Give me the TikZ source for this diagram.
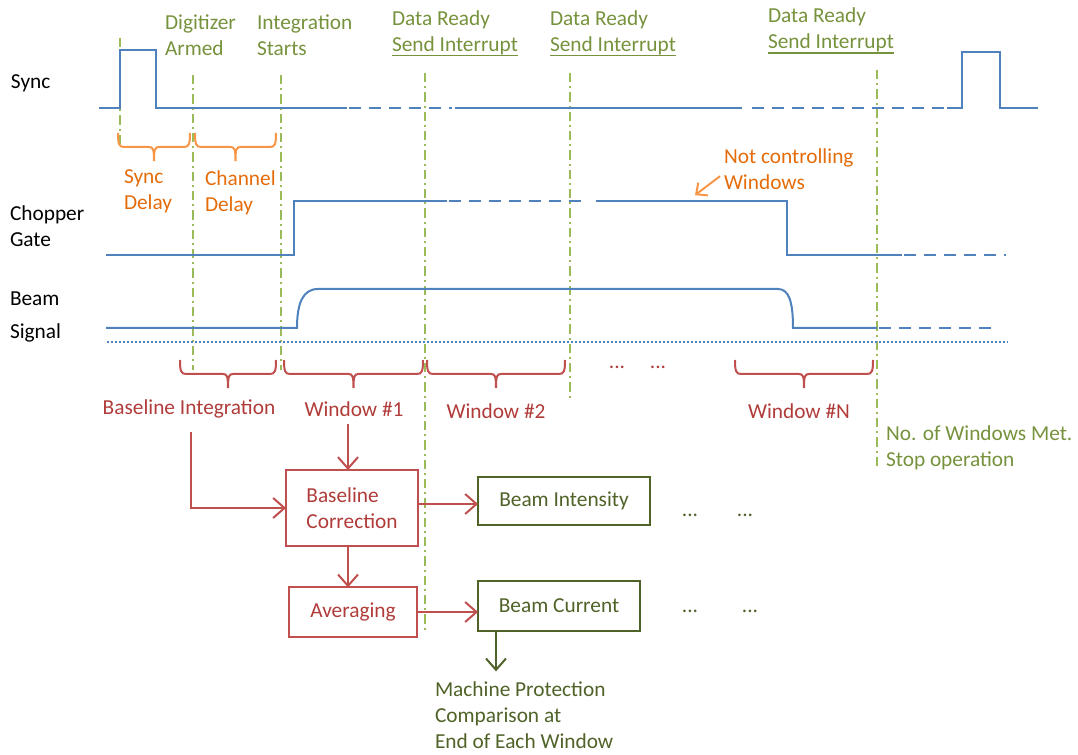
\documentclass[tikz,border=0pt]{standalone}
\usepackage{fontspec}
\setmainfont{Carlito}
\usetikzlibrary{arrows.meta}
\definecolor{wave}{HTML}{4F81BD}
\definecolor{marker}{HTML}{9BBB59}
\definecolor{evtext}{HTML}{76923C}
\definecolor{orng}{HTML}{F79646}
\definecolor{orngtext}{HTML}{E46C0A}
\definecolor{redl}{HTML}{C0504D}
\definecolor{redtext}{HTML}{B03C3A}
\definecolor{dkgreen}{HTML}{4F6228}
\newcommand\myul[1]{\leavevmode\setbox0\hbox{#1}\rlap{\rule[-3.8pt]{\wd0}{1.4pt}}\box0}
% brace: style, x1, x2, y (pixel units, y downward)
\newcommand\mybrace[4]{%
  \pgfmathsetmacro\bxm{(#2+#3)/2}%
  \draw[#1] (#2,#4) .. controls (#2,#4+11) and (#2+1,#4+14) .. (#2+6,#4+14)
    -- (\bxm-5,#4+14) .. controls (\bxm-1,#4+14) and (\bxm,#4+16) .. (\bxm,#4+28)
    .. controls (\bxm,#4+16) and (\bxm+1,#4+14) .. (\bxm+5,#4+14)
    -- (#3-6,#4+14) .. controls (#3-1,#4+14) and (#3,#4+11) .. (#3,#4);}
\begin{document}
\begin{tikzpicture}[x=0.75pt,y=-0.75pt,
  font=\fontsize{16}{19.5}\selectfont,
  every node/.style={inner sep=0pt,outer sep=0pt},
  lbl/.style={anchor=west,align=left,text=black},
  evt/.style={anchor=west,align=left,text=evtext},
  ortxt/.style={anchor=west,align=left,text=orngtext},
  redlbl/.style={text=redtext},
  wv/.style={wave,line width=1.5pt},
  wvd/.style={wave,line width=1.5pt,dash pattern=on 9pt off 6pt},
  mk/.style={marker,line width=1.5pt,dash pattern=on 7pt off 3pt on 1.5pt off 3pt},
  orbrace/.style={orng,line width=1.5pt},
  rdbrace/.style={redl,line width=1.5pt},
  redbox/.style={draw=redl,line width=1.5pt,text=redtext,align=left},
  grbox/.style={draw=dkgreen,line width=1.5pt,text=dkgreen},
  redarr/.style={redl,line width=1.5pt,-{Straight Barb[length=8.5pt,width=15pt,line width=1.5pt]}},
  grarr/.style={dkgreen,line width=1.5pt,-{Straight Barb[length=8.5pt,width=15pt,line width=1.5pt]}},
  orarr/.style={orng,line width=1.5pt,-{Straight Barb[length=6.5pt,width=12pt,line width=1.5pt]}},
]
\useasboundingbox (0,0) rectangle (1078,755);

% ---- signal labels
\node[lbl] (sync) at (11,83) {Sync};
\node[lbl] (chop) at (10,226.5) {Chopper\\Gate};
\node[lbl] (beam) at (10,317) {Beam\\[5pt]Signal};

% ---- event labels
\node[evt] (dig) at (165,35) {Digitizer\\Armed};
\node[evt] (ints) at (257,35) {Integration\\Starts};
\node[evt] (dr1) at (392,33.5) {Data Ready\\\myul{Send Interrupt}};
\node[evt] (dr2) at (550,33.5) {Data Ready\\\myul{Send Interrupt}};
\node[evt] (dr3) at (768,31) {Data Ready\\\myul{Send Interrupt}};
\node[evt] (stop) at (886,448) {No. of Windows Met.\\Stop operation};

% ---- marker lines
\draw[mk] (120,38) -- (120,148);
\draw[mk] (193,75) -- (193,370);
\draw[mk] (281,75) -- (281,370);
\draw[mk] (425,73) -- (425,632);
\draw[mk] (570,73) -- (570,398);
\draw[mk] (877,70) -- (877,466);

% ---- sync waveform
\draw[wv] (99,108) -- (120,108) -- (120,50) -- (156,50) -- (156,108) -- (347,108);
\draw[wvd] (349,108) -- (452,108);
\draw[wv] (455,108) -- (742,108);
\draw[wvd] (752,108) -- (947,108);
\draw[wv] (947,108) -- (962,108) -- (962,52) -- (1000,52) -- (1000,108) -- (1038,108);

% ---- chopper gate
\draw[wv] (106,255) -- (294,255) -- (294,201) -- (447,201);
\draw[wvd] (449,201) -- (584,201);
\draw[wv] (596,201) -- (787,201) -- (787,255) -- (902,255);
\draw[wvd] (904,255) -- (1006,255);

% ---- beam signal
\draw[wv] (106,328) -- (297,328) .. controls (297,303) and (303,289) .. (318,289)
  -- (778,289) .. controls (789,289) and (793,302) .. (793,328) -- (877,328);
\draw[wvd] (879,328) -- (992,328);
\draw[wave,line width=1.3pt,dash pattern=on 1.3pt off 1.7pt] (107,342) -- (1008,342);

% ---- orange braces and labels
\mybrace{orbrace}{118}{190}{133}
\mybrace{orbrace}{195}{276}{133}
\node[ortxt] (sd) at (124,191) {Sync\\Delay};
\node[ortxt] (cd) at (205,193) {Channel\\Delay};
\node[ortxt] (nc) at (724,169.5) {Not controlling\\Windows};
\draw[orarr] ([xshift=-3pt,yshift=-5pt]nc.west) -- ++(-25,19) coordinate (ncend);

% ---- red braces and labels
\mybrace{rdbrace}{180}{276}{360}
\mybrace{rdbrace}{284}{423}{360}
\mybrace{rdbrace}{427}{565}{360}
\mybrace{rdbrace}{735}{873}{360}
\node[redlbl] (bi) at (189,409) {Baseline Integration};
\node[redlbl] (w1) at (354,409) {Window \#1};
\node[redlbl] (w2) at (496,411) {Window \#2};
\node[redlbl] (wn) at (799,411) {Window \#N};
\node[redlbl] (rd1) at (617,367) {...};
\node[redlbl] (rd2) at (658,367) {...};

% ---- processing boxes
\node[redbox,minimum width=99pt,minimum height=57pt] (bc) at (352,508) {Baseline\\Correction};
\node[redbox,minimum width=96pt,minimum height=37pt] (avg) at (353,612) {Averaging};
\node[grbox,minimum width=129pt,minimum height=36pt] (bint) at (564,501) {Beam Intensity};
\node[grbox,minimum width=121.5pt,minimum height=37pt] (bcur) at (559,606) {Beam Current};
\node[anchor=west,align=left,text=dkgreen] (mp) at (435,715.5) {Machine Protection\\Comparison at\\End of Each Window};
\node[text=dkgreen] (gd1) at (690,515) {...};
\node[text=dkgreen] (gd2) at (745,515) {...};
\node[text=dkgreen] (gd3) at (690,611) {...};
\node[text=dkgreen] (gd4) at (750,611) {...};

% ---- connectors
\draw[redarr] ([xshift=1.5pt,yshift=-10pt]bi.south) |- (bc.west);
\path ([xshift=-4.5pt,yshift=-6pt]w1.south) coordinate (w1a);
\draw[redarr] (w1a) -- (w1a |- bc.north);
\draw[redarr] ([yshift=3pt]bc.east) -- ([yshift=3pt]bc.east -| bint.west);
\draw[redarr] ([xshift=-3pt]bc.south) -- ([xshift=-3pt]bc.south |- avg.north);
\draw[redarr] (avg.east) -- (avg.east -| bcur.west);
\path ([xshift=-47.25pt]bcur.south) coordinate (bcm);
\draw[grarr] (bcm) -- ([yshift=8pt]bcm |- mp.north);
\end{tikzpicture}
\end{document}
